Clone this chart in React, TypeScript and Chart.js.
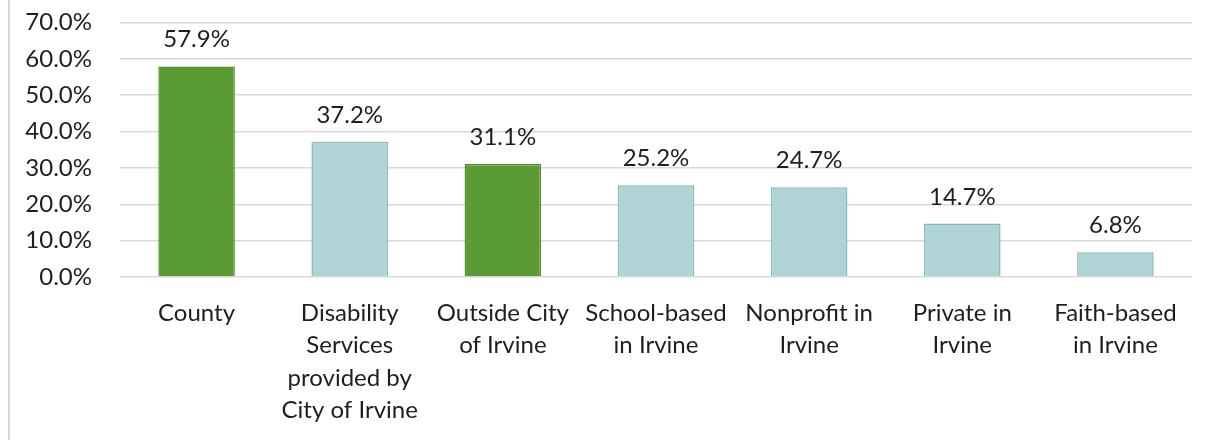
import React, { useEffect, useRef } from "react";
import { Chart, registerables } from "chart.js";

Chart.register(...registerables);

const categories: (string | string[])[] = [
  "County",
  ["Disability", "Services", "provided by", "City of Irvine"],
  ["Outside City", "of Irvine"],
  ["School-based", "in Irvine"],
  ["Nonprofit in", "Irvine"],
  ["Private in", "Irvine"],
  ["Faith-based", "in Irvine"],
];
const values: number[] = [57.9, 37.2, 31.1, 25.2, 24.7, 14.7, 6.8];
const highlight: boolean[] = [true, false, true, false, false, false, false];
const GREEN = "#5b9b34";
const GREEN_BORDER = "#55922f";
const BLUE = "#b0d4d6";
const BLUE_BORDER = "#86b9ba";
const FONT = "Lato, 'Open Sans', sans-serif";
const TEXT = "#1e1e1e";

const labelPlugin = {
  id: "valueLabels",
  afterDatasetsDraw(chart: any) {
    const ctx = chart.ctx;
    const meta = chart.getDatasetMeta(0);
    ctx.save();
    ctx.font = `24px ${FONT}`;
    ctx.fillStyle = TEXT;
    ctx.textAlign = "center";
    ctx.textBaseline = "alphabetic";
    meta.data.forEach((bar: any, i: number) => {
      ctx.fillText(values[i].toFixed(1) + "%", bar.x, bar.y - 19);
    });
    ctx.restore();
  },
};

const framePlugin = {
  id: "frame",
  beforeDraw(chart: any) {
    const ctx = chart.ctx;
    ctx.save();
    ctx.fillStyle = "#fff";
    ctx.fillRect(0, 0, chart.width, chart.height);
    ctx.strokeStyle = "#d9d9d9";
    ctx.lineWidth = 2;
    ctx.beginPath();
    ctx.moveTo(9, 0);
    ctx.lineTo(9, chart.height);
    ctx.stroke();
    ctx.restore();
  },
};

export default function App() {
  const ref = useRef<HTMLCanvasElement>(null);
  useEffect(() => {
    if (!ref.current) return;
    const chart = new Chart(ref.current, {
      type: "bar",
      data: {
        labels: categories,
        datasets: [
          {
            data: values,
            backgroundColor: highlight.map((h) => (h ? GREEN : BLUE)),
            borderColor: highlight.map((h) => (h ? GREEN_BORDER : BLUE_BORDER)),
            borderWidth: 1.5,
            barPercentage: 0.5,
            categoryPercentage: 1,
          },
        ],
      },
      options: {
        animation: false,
        responsive: false,
        maintainAspectRatio: false,
        layout: { padding: { left: 20, right: 20, top: 4, bottom: 0 } },
        plugins: { legend: { display: false }, tooltip: { enabled: false } },
        scales: {
          x: {
            grid: { display: false, drawTicks: false },
            border: { display: false },
            ticks: {
              color: TEXT,
              font: { family: FONT, size: 24, lineHeight: 1.35 },
              padding: 20,
              maxRotation: 0,
              autoSkip: false,
            },
            afterFit(scale: any) {
              scale.height = 163;
            },
          },
          y: {
            min: 0,
            max: 70,
            ticks: {
              stepSize: 10,
              color: TEXT,
              font: { family: FONT, size: 24 },
              padding: 28,
              callback: (v: any) => Number(v).toFixed(1) + "%",
            },
            grid: { color: "#d9d9d9", lineWidth: 1.5, drawTicks: false },
            border: { display: false },
            afterFit(scale: any) {
              scale.width = 100;
            },
          },
        },
      },
      plugins: [framePlugin, labelPlugin],
    });
    return () => chart.destroy();
  }, []);
  return (
    <div style={{ position: "fixed", left: 0, top: 0, width: 1212, height: 440, background: "#fff", overflow: "hidden" }}>
      <canvas
        ref={ref}
        width={1212}
        height={460}
        style={{ position: "absolute", left: 0, top: -20, width: 1212, height: 460, display: "block" }}
      />
    </div>
  );
}
